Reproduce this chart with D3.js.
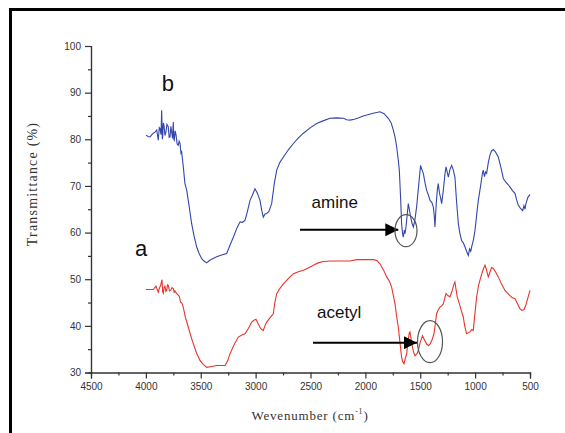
<!DOCTYPE html>
<html>
<head>
<meta charset="utf-8">
<script src="https://cdnjs.cloudflare.com/ajax/libs/d3/7.8.5/d3.min.js"></script>
<style>
  body { margin: 0; background: #fff; }
  svg { display: block; }
</style>
</head>
<body>
<div id="chart"></div>
<script>
// spectrum b (blue) : wavenumber, transmittance
var waveB = [3999,3980,3962,3945,3932,3915,3901,3887,3878,3871,3862,3856,3850,3847,3841,3835,3826,3817,3808,3796,3788,3780,3772,3765,3757,3750,3745,3741,3733,3725,3715,3705,3697,3689,3680,3674,3659,3644,3628,3605,3583,3560,3537,3515,3491,3470,3446,3420,3400,3355,3310,3264,3230,3203,3170,3142,3120,3097,3075,3051,3030,3006,2985,2960,2945,2930,2915,2899,2880,2854,2830,2808,2780,2747,2700,2656,2610,2565,2500,2444,2380,2322,2260,2201,2170,2140,2100,2060,2020,1988,1930,1867,1830,1791,1765,1746,1730,1715,1700,1691,1684,1678,1670,1662,1655,1645,1638,1630,1618,1609,1600,1588,1575,1563,1550,1533,1515,1497,1485,1472,1455,1442,1425,1411,1395,1381,1372,1366,1355,1345,1336,1325,1315,1305,1290,1275,1265,1255,1244,1230,1214,1200,1184,1170,1153,1140,1123,1108,1092,1078,1062,1050,1040,1032,1015,1001,985,971,950,935,926,915,905,895,880,865,850,834,815,789,765,743,720,700,683,660,637,622,607,590,567,555,545,537,520,500];
var transB = [80.9,80.6,80.5,81.0,81.3,81.6,82.0,79.8,82.5,82.3,81.0,86.2,80.0,80.5,83.5,83.0,80.8,81.6,83.2,82.7,80.4,80.5,82.8,81.6,80.2,83.7,80.0,79.8,81.8,80.9,79.0,78.7,79.6,79.1,77.0,77.3,74.1,70.5,69.1,65.5,61.9,59.2,56.9,55.5,54.4,53.9,53.5,54.0,54.3,54.8,55.2,55.5,57.5,59.0,61.0,62.3,62.2,62.6,64.5,66.9,68.0,69.4,68.5,66.9,64.8,63.3,64.0,64.1,64.5,66.2,70.5,73.4,75.0,76.2,77.8,79.1,80.3,81.3,82.5,83.4,84.0,84.5,84.6,84.5,84.2,84.1,84.3,84.6,85.0,85.2,85.6,85.9,85.5,84.5,83.5,82.0,80.5,78.4,75.5,73.4,70.0,66.9,61.9,60.0,59.0,60.5,59.8,61.2,64.0,66.2,65.0,63.4,62.0,61.2,62.5,65.5,70.0,74.4,73.5,72.7,70.5,69.1,68.0,66.9,66.5,65.5,63.5,61.2,66.0,69.0,70.5,68.5,67.5,66.2,69.0,72.5,74.1,73.0,71.9,73.5,74.4,73.5,71.9,67.0,61.9,60.0,58.3,57.8,56.9,56.0,55.1,56.5,56.0,56.9,58.5,60.5,64.0,66.9,70.0,72.5,73.4,72.0,73.0,72.7,75.0,76.6,77.5,77.8,77.3,76.2,74.0,71.6,70.8,70.3,69.8,69.0,68.4,67.0,65.9,65.3,64.7,65.8,65.0,66.2,67.5,68.2];

// spectrum a (red)
var waveA = [3999,3965,3932,3908,3887,3875,3865,3853,3847,3841,3833,3826,3818,3810,3803,3796,3785,3774,3762,3750,3742,3735,3719,3705,3695,3689,3683,3672,3664,3653,3640,3613,3590,3568,3540,3507,3475,3446,3400,3355,3279,3255,3234,3195,3158,3120,3097,3065,3036,3015,2997,2978,2960,2945,2930,2915,2899,2870,2839,2825,2808,2780,2747,2700,2656,2610,2565,2520,2474,2430,2383,2320,2262,2200,2140,2079,2000,1928,1895,1867,1835,1806,1780,1761,1745,1730,1715,1700,1685,1670,1660,1648,1636,1624,1610,1600,1594,1582,1570,1560,1548,1530,1518,1500,1479,1462,1442,1425,1411,1392,1375,1362,1351,1335,1320,1305,1290,1278,1265,1248,1229,1210,1195,1184,1175,1163,1150,1139,1125,1108,1095,1078,1062,1047,1030,1017,1000,986,970,956,935,920,910,900,880,865,850,834,812,789,760,728,705,683,660,637,615,592,575,555,540,525,500];
var transA = [47.8,47.8,47.8,48.5,47.2,48.2,48.7,49.9,47.3,47.0,48.3,48.5,47.4,47.6,48.8,48.7,47.5,47.6,48.2,48.0,47.2,47.5,46.9,46.6,46.3,45.6,45.1,44.9,44.4,43.3,41.8,39.7,37.8,36.2,34.3,32.6,31.7,31.1,31.3,31.5,31.5,32.5,34.0,36.0,37.6,38.1,38.3,39.5,40.8,41.2,41.4,40.5,39.7,39.2,39.0,40.0,40.8,41.7,42.6,45.0,46.9,48.0,49.0,50.2,51.2,51.6,51.9,52.4,53.0,53.5,53.8,53.9,53.9,53.9,53.9,54.2,54.2,54.2,54.0,53.3,52.0,50.5,49.5,48.3,46.5,44.7,42.0,39.7,36.5,33.3,32.3,31.9,33.0,34.0,37.0,38.5,38.7,37.0,35.4,34.3,33.6,34.0,34.7,36.5,37.9,37.0,36.1,35.8,36.1,37.0,38.3,40.5,42.6,43.5,44.0,44.3,44.7,45.8,46.9,46.5,46.2,47.5,48.8,49.4,48.0,46.2,45.2,44.4,43.2,41.9,40.0,38.3,38.5,38.7,39.2,39.0,43.0,46.2,48.5,49.8,51.5,52.5,53.0,52.3,50.5,51.5,52.5,52.3,51.5,50.5,49.0,47.6,47.0,46.5,46.0,45.8,44.8,43.7,43.3,43.5,44.3,45.5,47.6];

var xTicks = [4500,4000,3500,3000,2500,2000,1500,1000,500];
var yTicks = [30,40,50,60,70,80,90,100];

var w = 565, h = 433;

var svg = d3.select('#chart').append('svg')
  .attr('width', w)
  .attr('height', h)
  .style('font-family', 'Liberation Sans, Arial, sans-serif');

svg.append('rect').attr('width', w).attr('height', h).attr('fill', '#fff');

// outer frame (runs off the right and bottom edges)
svg.append('rect')
  .attr('x', 10.5).attr('y', 9.5)
  .attr('width', 700).attr('height', 600)
  .attr('fill', 'none')
  .attr('stroke', '#000')
  .attr('stroke-width', 3);

var x = d3.scaleLinear().domain([4500, 500]).range([91, 530]);
var y = d3.scaleLinear().domain([30, 100]).range([372.5, 46]);

// x axis
svg.append('g')
  .attr('transform', 'translate(0,' + y(30) + ')')
  .call(d3.axisBottom(x).tickValues(xTicks).tickSize(6).tickPadding(4).tickFormat(d3.format('d')));
svg.append('g')
  .attr('transform', 'translate(0,' + y(30) + ')')
  .call(d3.axisBottom(x).tickValues(d3.range(4250, 500, -500)).tickSize(3).tickFormat(''));

// y axis
svg.append('g')
  .attr('transform', 'translate(' + x(4500) + ',0)')
  .call(d3.axisLeft(y).tickValues(yTicks).tickSize(6).tickPadding(4));
svg.append('g')
  .attr('transform', 'translate(' + x(4500) + ',0)')
  .call(d3.axisLeft(y).tickValues(d3.range(35, 100, 10)).tickSize(3).tickFormat(''));

svg.selectAll('.domain').attr('stroke', '#333').attr('stroke-width', 1.2);
svg.selectAll('.tick line').attr('stroke', '#333').attr('stroke-width', 1.2);
svg.selectAll('.tick text').attr('fill', '#333').style('font-size', '10px')
  .style('font-family', 'Liberation Sans, Arial, sans-serif');

// axis titles
svg.append('text')
  .attr('transform', 'translate(37,184) rotate(-90)')
  .attr('text-anchor', 'middle')
  .style('font-family', 'Liberation Serif, Times New Roman, serif')
  .style('font-size', '14px')
  .style('letter-spacing', '1.2px')
  .attr('fill', '#333')
  .text('Transmittance (%)');

var xt = svg.append('text')
  .attr('x', 310).attr('y', 420)
  .attr('text-anchor', 'middle')
  .style('font-family', 'Liberation Serif, Times New Roman, serif')
  .style('font-size', '13px')
  .style('letter-spacing', '0.8px')
  .attr('fill', '#333');
xt.append('tspan').text('Wevenumber (cm');
xt.append('tspan').attr('dy', -6).style('font-size', '8px').text('-1');
xt.append('tspan').attr('dy', 6).text(')');

// spectra
var line = d3.line()
  .x(function(d) { return x(d[0]); })
  .y(function(d) { return y(d[1]); });

svg.append('path')
  .datum(d3.zip(waveB, transB))
  .attr('d', line)
  .attr('fill', 'none')
  .attr('stroke', '#3346ad')
  .attr('stroke-width', 1.1);

svg.append('path')
  .datum(d3.zip(waveA, transA))
  .attr('d', line)
  .attr('fill', 'none')
  .attr('stroke', '#e5352b')
  .attr('stroke-width', 1.1);

// series labels
svg.append('text').attr('x', x(3855)).attr('y', y(90.3)).style('font-size', '22px').attr('fill', '#111').text('b');
svg.append('text').attr('x', x(4100)).attr('y', y(54.9)).style('font-size', '22px').attr('fill', '#111').text('a');

// annotations
svg.append('defs').append('marker')
  .attr('id', 'head')
  .attr('viewBox', '0 0 10 10')
  .attr('refX', 10).attr('refY', 5)
  .attr('markerWidth', 13).attr('markerHeight', 13)
  .attr('markerUnits', 'userSpaceOnUse')
  .attr('orient', 'auto')
  .append('path').attr('d', 'M0,0L10,5L0,10Z').attr('fill', '#000');

var notes = [
  { label: 'amine', tx: 2490, ty: 65.3, from: 2596, to: 1700, ay: 60.6, cx: 1630, cy: 60.4, rx: 11, ry: 16 },
  { label: 'acetyl', tx: 2441, ty: 41.7, from: 2477, to: 1530, ay: 36.4, cx: 1411, cy: 36.6, rx: 12.5, ry: 21 }
];

notes.forEach(function(n) {
  svg.append('text').attr('x', x(n.tx)).attr('y', y(n.ty))
    .style('font-size', '17px').attr('fill', '#111').text(n.label);
  svg.append('line')
    .attr('x1', x(n.from)).attr('y1', y(n.ay))
    .attr('x2', x(n.to)).attr('y2', y(n.ay))
    .attr('stroke', '#000').attr('stroke-width', 2)
    .attr('marker-end', 'url(#head)');
  svg.append('ellipse')
    .attr('cx', x(n.cx)).attr('cy', y(n.cy))
    .attr('rx', n.rx).attr('ry', n.ry)
    .attr('fill', 'none').attr('stroke', '#555').attr('stroke-width', 1.2);
});
</script>
</body>
</html>
